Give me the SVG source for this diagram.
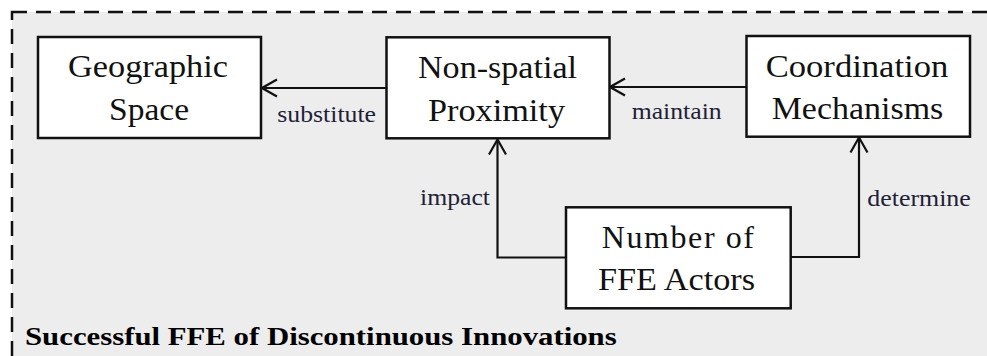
<svg xmlns="http://www.w3.org/2000/svg" width="987" height="356" viewBox="0 0 987 356">
<style>
.node rect{fill:#fff;stroke:#111;stroke-width:2.5}
.node text{font-size:32px;fill:#111}
.conn path.l{fill:none;stroke:#111;stroke-width:2.2}
.lbl{font-size:23px;fill:#1f1f38}
.title{font-size:26px;font-weight:bold;fill:#000}
.t{font-family:'Liberation Serif','LiberationSerif',Tinos,'Times New Roman','Nimbus Roman','Nimbus Roman No9 L',FreeSerif,serif}
</style>
<defs>
<marker id="arr" viewBox="-16 -10 18 20" refX="0" refY="0" markerWidth="18" markerHeight="20" markerUnits="userSpaceOnUse" orient="auto">
<path d="M-15,-8.5 L0,0 L-15,8.5" fill="none" stroke="#111" stroke-width="2.2"/>
</marker>
</defs>
<rect x="0" y="0" width="987" height="356" fill="#fff"/>
<rect x="12" y="12" width="1000" height="360" fill="#ededed" stroke="#111" stroke-width="2.5" stroke-dasharray="15 9"/>
<g class="t">
<g class="conn" id="connectors">
<path class="l" d="M386,88 L262,88" marker-end="url(#arr)"/>
<path class="l" d="M746,87 L610,87" marker-end="url(#arr)"/>
<path class="l" d="M566,257.5 L497.5,257.5 L497.5,139.5" marker-end="url(#arr)"/>
<path class="l" d="M791,257 L859,257 L859,137.5" marker-end="url(#arr)"/>
<text class="lbl" x="277.3" y="121.7" textLength="98.7" lengthAdjust="spacingAndGlyphs">substitute</text>
<text class="lbl" x="631.7" y="119.3" textLength="90" lengthAdjust="spacingAndGlyphs">maintain</text>
<text class="lbl" x="420" y="205" textLength="70" lengthAdjust="spacingAndGlyphs">impact</text>
<text class="lbl" x="867.3" y="206" textLength="103.5" lengthAdjust="spacingAndGlyphs">determine</text>
</g>
<g class="node" id="geographic-space">
<rect x="38" y="37" width="223" height="101"/>
<text x="68" y="77.3" textLength="160" lengthAdjust="spacingAndGlyphs">Geographic</text>
<text x="109" y="120" textLength="80" lengthAdjust="spacingAndGlyphs">Space</text>
</g>
<g class="node" id="non-spatial-proximity">
<rect x="386.5" y="37.3" width="223" height="101"/>
<text x="418" y="78.3" textLength="159" lengthAdjust="spacingAndGlyphs">Non-spatial</text>
<text x="428" y="120.7" textLength="137" lengthAdjust="spacingAndGlyphs">Proximity</text>
</g>
<g class="node" id="coordination-mechanisms">
<rect x="746.5" y="36" width="223.5" height="100.7"/>
<text x="765.7" y="76.7" textLength="182.6" lengthAdjust="spacingAndGlyphs">Coordination</text>
<text x="771.7" y="119.3" textLength="171.6" lengthAdjust="spacingAndGlyphs">Mechanisms</text>
</g>
<g class="node" id="number-of-ffe-actors">
<rect x="566" y="207.3" width="224.7" height="101"/>
<text x="601.7" y="248.3" textLength="152.3" lengthAdjust="spacing">Number of</text>
<text x="598" y="290" textLength="157" lengthAdjust="spacingAndGlyphs">FFE Actors</text>
</g>
<text class="title" x="25" y="344.5" textLength="591.7" lengthAdjust="spacingAndGlyphs">Successful FFE of Discontinuous Innovations</text>
</g>
</svg>
